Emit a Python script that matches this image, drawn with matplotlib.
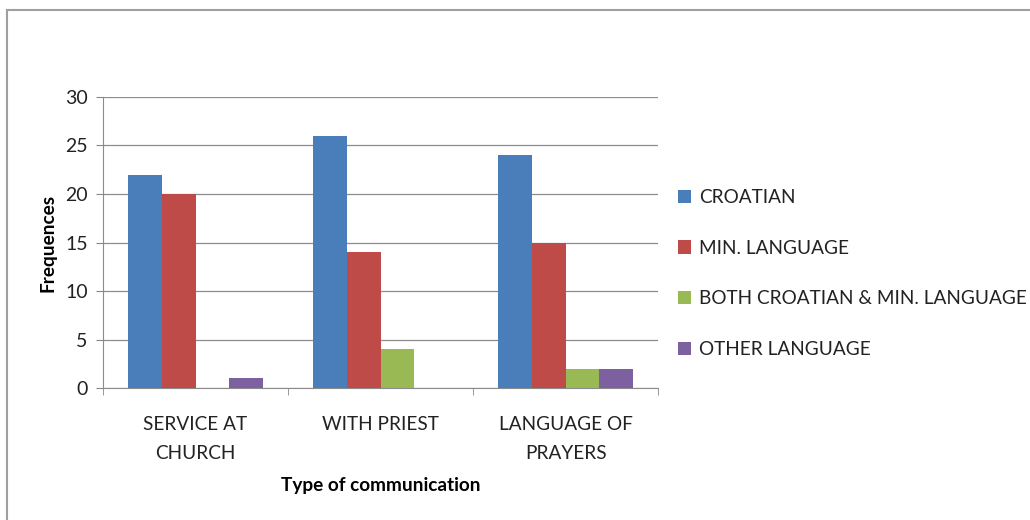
import matplotlib
matplotlib.use('Agg')
import matplotlib.pyplot as plt
from matplotlib.lines import Line2D
import numpy as np

categories = ['SERVICE AT\nCHURCH', 'WITH PRIEST', 'LANGUAGE OF\nPRAYERS']
series = ['CROATIAN', 'MIN. LANGUAGE', 'BOTH CROATIAN & MIN. LANGUAGE', 'OTHER LANGUAGE']
croatian = [22, 26, 24]
min_language = [20, 14, 15]
both = [0, 4, 2]
other = [1, 0, 2]
colors = ['#4A7EBB', '#BE4B48', '#98B954', '#7D60A0']

plt.rcParams['font.family'] = ['Lato', 'DejaVu Sans']
fs = 13.7

fig = plt.figure(figsize=(10.3, 5.2), dpi=100)
ax = fig.add_axes([0.1, 0.2538, 0.539, 0.5597])

# рамка вокруг диаграммы
fig.add_artist(Line2D([0.0065, 0.0065], [0, 0.981], color='#A0A0A0', lw=1.5))
fig.add_artist(Line2D([0.0065, 1.0], [0.981, 0.981], color='#A0A0A0', lw=1.5))

x = np.arange(len(categories)) + 0.5
width = 0.1825
values = [croatian, min_language, both, other]
for i, (vals, name) in enumerate(zip(values, series)):
    ax.bar(x + (i - 1.5) * width, vals, width, color=colors[i], label=name, zorder=3)

ax.set_xlim(0, 3)
ax.set_ylim(0, 30)
ax.set_yticks(range(0, 31, 5))
ax.set_xticks([0, 1, 2, 3], minor=True)
ax.set_xticks(x)
ax.set_xticklabels(categories, fontsize=fs, color='#222222', linespacing=1.85)
ax.tick_params(axis='x', which='major', length=0, pad=20)
ax.tick_params(axis='x', which='minor', length=5, color='#888888', direction='out')
ax.tick_params(axis='y', labelsize=14, colors='#222222', length=5, color='#888888', pad=6)

ax.grid(axis='y', color='#8C8C8C', lw=0.9, zorder=0)
for s in ['top', 'right']:
    ax.spines[s].set_visible(False)
ax.spines['left'].set_color('#8C8C8C')
ax.spines['bottom'].set_color('#8C8C8C')

ax.set_ylabel('Frequences', fontsize=fs, fontweight='bold', labelpad=6)
ax.set_xlabel('Type of communication', fontsize=fs, fontweight='bold', labelpad=11)

ax.legend(loc='center left', bbox_to_anchor=(1.005, 0.393), frameon=False,
          fontsize=fs, handlelength=0.7, handleheight=0.7, handletextpad=0.4,
          labelspacing=1.77, labelcolor='#222222')

plt.savefig('out.png', dpi=100)
